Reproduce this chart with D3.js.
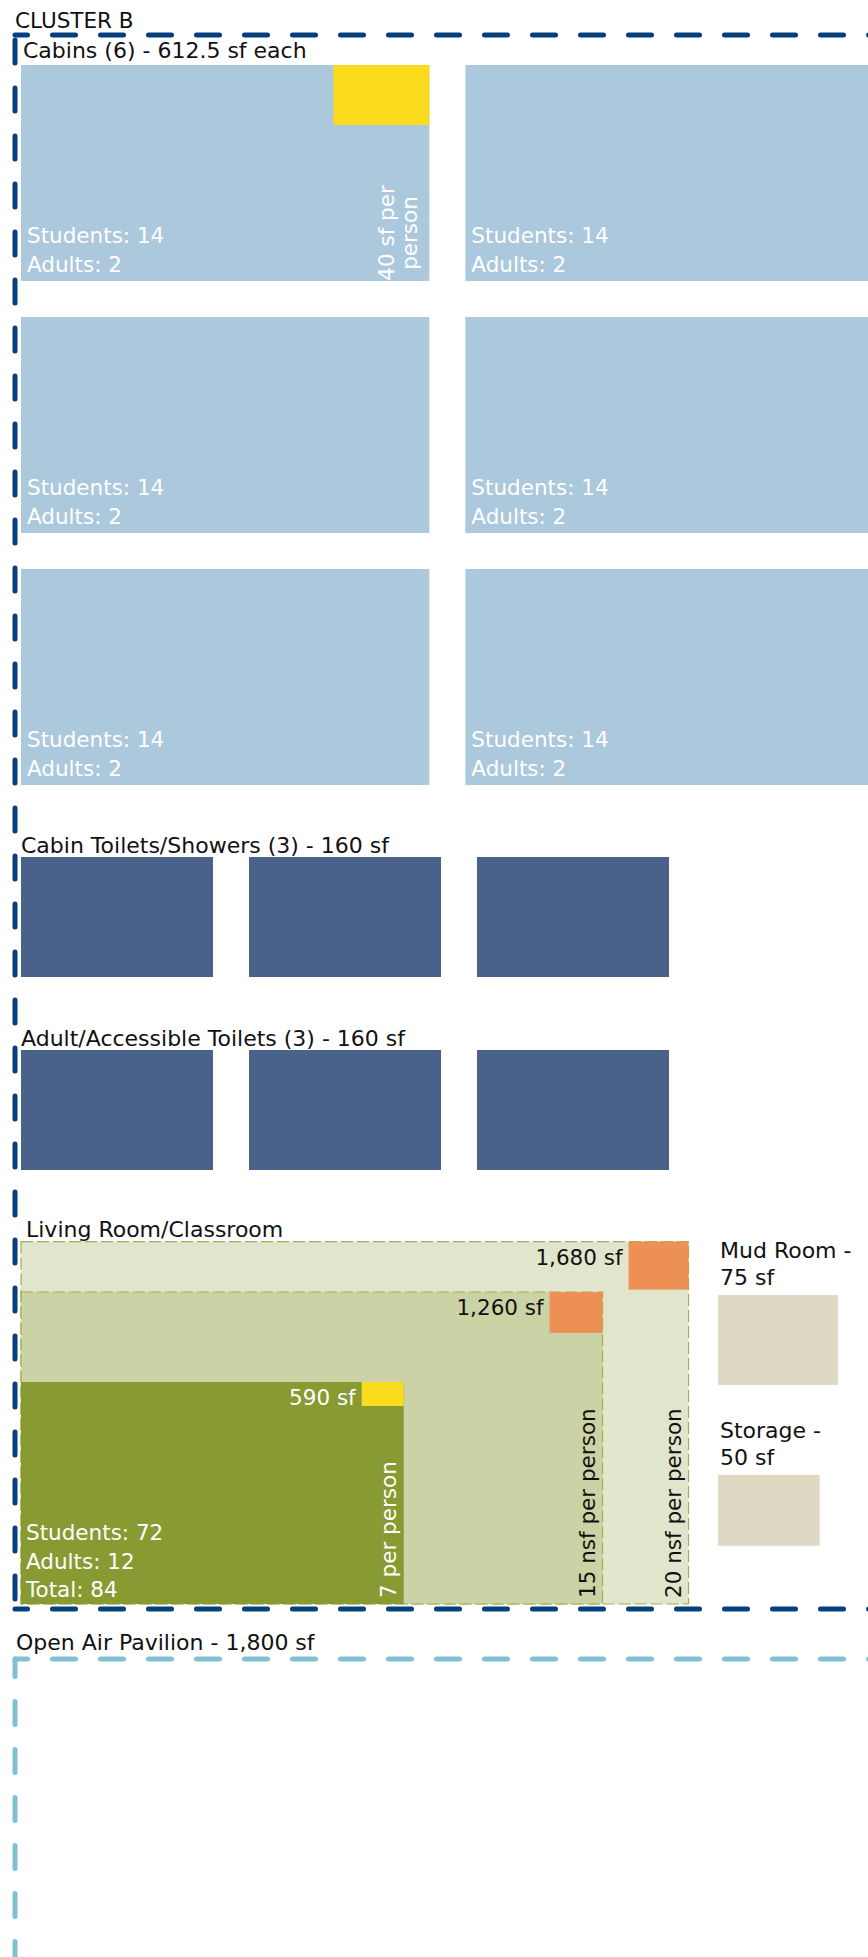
<!DOCTYPE html>
<html>
<head>
<meta charset="utf-8">
<script src="https://cdn.jsdelivr.net/npm/d3@7"></script>
<style>
body { margin: 0; background: #fff; }
text { font-family: "DejaVu Sans", Lato, sans-serif; }
</style>
</head>
<body>
<div id="chart"></div>
<script>
// space program values (square feet, counts)
var clusterName = "CLUSTER B";

var cabinCount = 6;
var cabinArea = 612.5;
var cabinDepth = 18;          // ft
var cabinPeople = [14, 2];    // students, adults
var cabinPerPerson = 40;
var cabinPerPersonDepth = 5;

var toiletNames = ["Cabin Toilets/Showers", "Adult/Accessible Toilets"];
var toiletCounts = [3, 3];
var toiletArea = 160;
var toiletDepth = 10;

var livingAreas = [1680, 1260, 590];
var livingDepths = [30.2, 26, 18.5];
var livingPerPerson = [20, 15, 7];
var livingPerPersonUnit = ["nsf per person", "nsf per person", "per person"];
var livingPerPersonDepths = [4, 3.4, 2];
var livingPeople = [72, 12, 84];   // students, adults, total

var supportNames = ["Mud Room", "Storage"];
var supportAreas = [75, 50];
var supportDepths = [7.5, 5.9];

var pavilionArea = 1800;
var pavilionDepth = 25;

// colours
var cabinColor = "#abc8dc", yellow = "#fbdb1e", toiletColor = "#4a6289";
var livingColors = ["#e1e5cb", "#cad2a6", "#889a32"], orange = "#ec9054";
var supportColor = "#dfd9c4", clusterLine = "#063f7e", pavilionLine = "#80c0d0";

var W = 868, H = 1957;
var svg = d3.select("#chart").append("svg")
    .attr("width", W)
    .attr("height", H);

// 1 ft = 12 px
var ft = d3.scaleLinear().domain([0, 10]).range([0, 120]);
var gap = ft(3);
var left = 21;
var fs = 21.5, ts = 22;

function fmt(v) { return d3.format(",")(v); }

function dashed(x1, y1, x2, y2, color, offset) {
    svg.append("line")
        .attr("x1", x1).attr("y1", y1).attr("x2", x2).attr("y2", y2)
        .attr("stroke", color)
        .attr("stroke-width", 5)
        .attr("stroke-linecap", "round")
        .attr("stroke-dasharray", "23 25")
        .attr("stroke-dashoffset", offset);
}

function title(x, y, t, size) {
    return svg.append("text")
        .attr("x", x).attr("y", y)
        .attr("font-size", size || ts)
        .attr("fill", "#111")
        .text(t);
}

// ---- cluster frame
title(15, 28, clusterName, 21.5);
dashed(15, 35, 900, 35, clusterLine, 10.5);
dashed(15, 35, 15, 1609, clusterLine, -5);
dashed(15, 1609, 900, 1609, clusterLine, 10.5);

// ---- cabins
title(23, 58, "Cabins (" + cabinCount + ") - " + cabinArea + " sf each");
var cabinW = ft(cabinArea / cabinDepth), cabinH = ft(cabinDepth);
var cabins = d3.range(cabinCount).map(function(i) {
    return { x: left + (i % 2) * (cabinW + gap), y: 65 + Math.floor(i / 2) * (cabinH + gap) };
});

var cabin = svg.selectAll(".cabin")
    .data(cabins)
    .enter()
    .append("g")
    .attr("class", "cabin")
    .attr("transform", function(d) { return "translate(" + [d.x, d.y] + ")"; });

cabin.append("rect")
    .attr("width", cabinW)
    .attr("height", cabinH)
    .attr("fill", cabinColor);

cabin.append("text")
    .attr("x", 6).attr("y", cabinH - 38)
    .attr("font-size", fs).attr("fill", "#fff")
    .text("Students: " + cabinPeople[0]);
cabin.append("text")
    .attr("x", 6).attr("y", cabinH - 9)
    .attr("font-size", fs).attr("fill", "#fff")
    .text("Adults: " + cabinPeople[1]);

// per-person square in the first cabin
var ppW = ft(cabinPerPerson / cabinPerPersonDepth), ppH = ft(cabinPerPersonDepth);
var first = cabin.filter(function(d, i) { return i === 0; });
first.append("rect")
    .attr("x", cabinW - ppW)
    .attr("width", ppW)
    .attr("height", ppH)
    .attr("fill", yellow);
var ppLabel = first.append("text")
    .attr("transform", "translate(" + [cabinW - 35, cabinH - 48] + ") rotate(-90)")
    .attr("text-anchor", "middle")
    .attr("font-size", fs).attr("fill", "#fff");
ppLabel.append("tspan").attr("x", 0).attr("y", 0).text(cabinPerPerson + " sf per");
ppLabel.append("tspan").attr("x", 0).attr("y", 23).text("person");

// ---- toilets
var toiletTops = [857, 1050];
var toiletW = ft(toiletArea / toiletDepth), toiletH = ft(toiletDepth);
toiletNames.forEach(function(name, g) {
    title(left, toiletTops[g] - 4, name + " (" + toiletCounts[g] + ") - " + toiletArea + " sf");
    svg.selectAll(".toilet" + g)
        .data(d3.range(toiletCounts[g]))
        .enter()
        .append("rect")
        .attr("class", "toilet" + g)
        .attr("x", function(d) { return left + d * (toiletW + gap); })
        .attr("y", toiletTops[g])
        .attr("width", toiletW)
        .attr("height", toiletH)
        .attr("fill", toiletColor);
});

// ---- living room / classroom (nested, anchored bottom-left)
var livingBottom = 1604;
title(26, 1237, "Living Room/Classroom");
var rooms = livingAreas.map(function(a, i) {
    var w = ft(a / livingDepths[i]), h = ft(livingDepths[i]);
    return { area: a, w: w, h: h, x: left, y: livingBottom - h,
             pp: livingPerPerson[i], unit: livingPerPersonUnit[i],
             ppW: ft(livingPerPerson[i] / livingPerPersonDepths[i]),
             ppH: ft(livingPerPersonDepths[i]), i: i };
});

var room = svg.selectAll(".room")
    .data(rooms)
    .enter()
    .append("g")
    .attr("class", "room")
    .attr("transform", function(d) { return "translate(" + [d.x, d.y] + ")"; });

room.append("rect")
    .attr("width", function(d) { return d.w; })
    .attr("height", function(d) { return d.h; })
    .attr("fill", function(d) { return livingColors[d.i]; })
    .attr("stroke", function(d) { return d.i < 2 ? "#a3b04e" : "none"; })
    .attr("stroke-width", 1.2)
    .attr("stroke-dasharray", "12 4");

room.append("rect")
    .attr("x", function(d) { return d.w - d.ppW; })
    .attr("width", function(d) { return d.ppW; })
    .attr("height", function(d) { return d.ppH; })
    .attr("fill", function(d) { return d.i === 2 ? yellow : orange; });

room.append("text")
    .attr("x", function(d) { return d.w - d.ppW - 6; })
    .attr("y", 23)
    .attr("text-anchor", "end")
    .attr("font-size", fs)
    .attr("fill", function(d) { return d.i === 2 ? "#fff" : "#111"; })
    .text(function(d) { return fmt(d.area) + " sf"; });

room.append("text")
    .attr("transform", function(d) { return "translate(" + [d.w - 8, d.h - 6] + ") rotate(-90)"; })
    .attr("font-size", fs)
    .attr("fill", function(d) { return d.i === 2 ? "#fff" : "#111"; })
    .text(function(d) { return d.pp + " " + d.unit; });

var peopleLabels = ["Students: ", "Adults: ", "Total: "];
svg.selectAll(".people")
    .data(livingPeople)
    .enter()
    .append("text")
    .attr("class", "people")
    .attr("x", 26)
    .attr("y", function(d, i) { return livingBottom - 64 + i * 28.5; })
    .attr("font-size", fs)
    .attr("fill", "#fff")
    .text(function(d, i) { return peopleLabels[i] + d; });

// ---- support rooms
var supportTops = [1295, 1475];
supportNames.forEach(function(name, i) {
    title(720, supportTops[i] - 37, name + " -");
    title(720, supportTops[i] - 10, supportAreas[i] + " sf");
    svg.append("rect")
        .attr("x", 718)
        .attr("y", supportTops[i])
        .attr("width", ft(supportAreas[i] / supportDepths[i]))
        .attr("height", ft(supportDepths[i]))
        .attr("fill", supportColor);
});

// ---- open air pavilion
title(16, 1650, "Open Air Pavilion - " + fmt(pavilionArea) + " sf");
var pavTop = 1659, pavW = ft(pavilionArea / pavilionDepth), pavH = ft(pavilionDepth);
dashed(15, pavTop, 15 + pavW, pavTop, pavilionLine, 10.5);
dashed(15, pavTop, 15, pavTop + pavH, pavilionLine, 5.5);
</script>
</body>
</html>
